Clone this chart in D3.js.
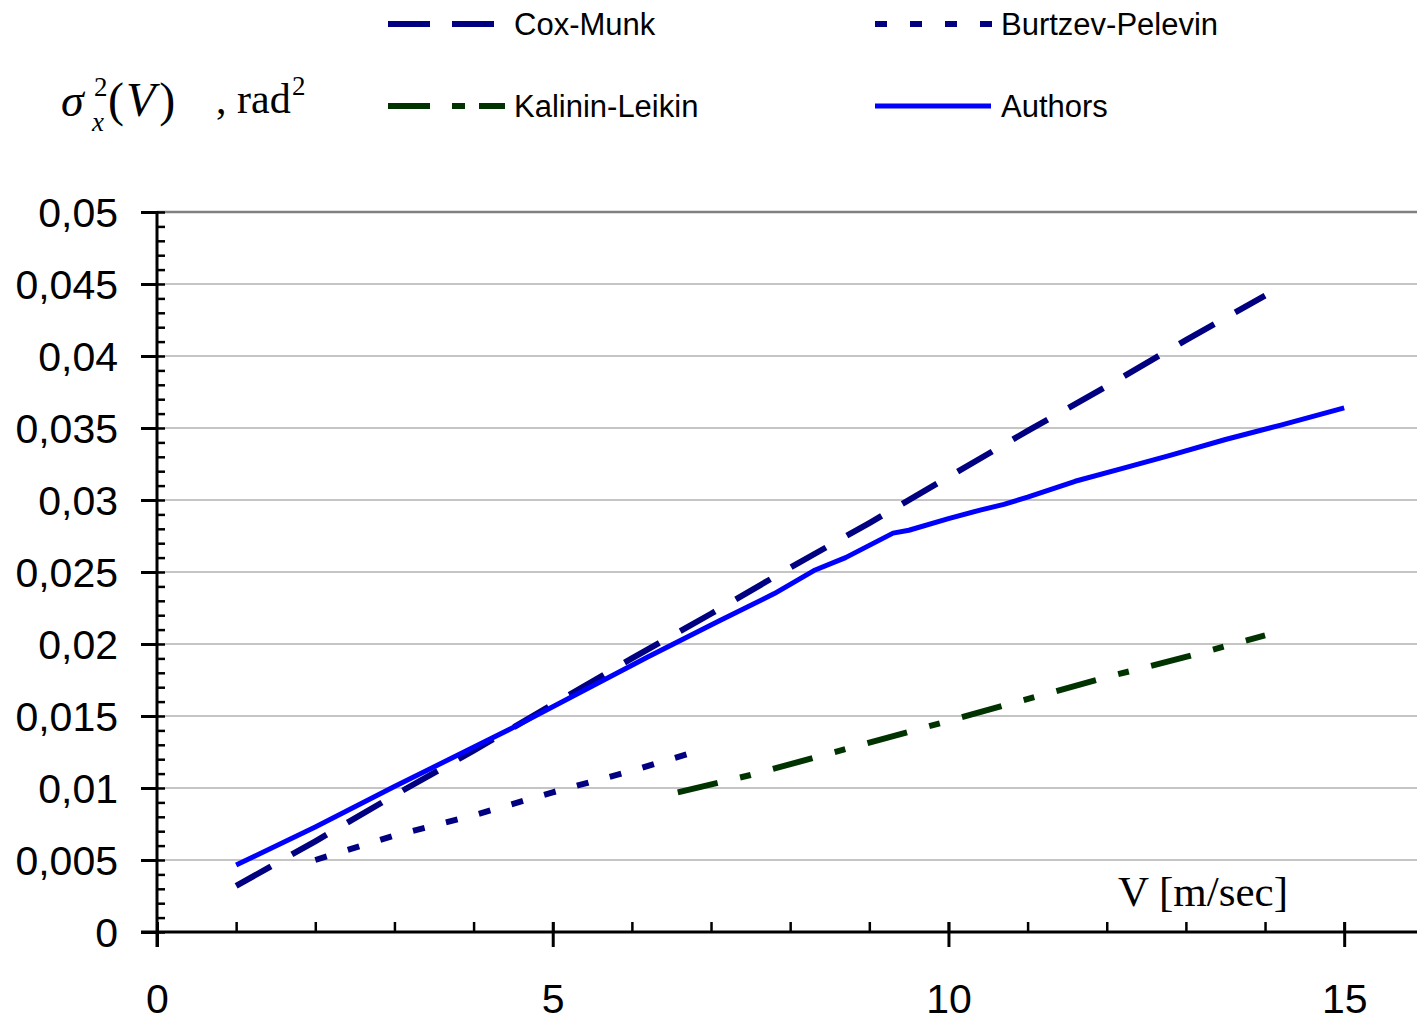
<!DOCTYPE html>
<html><head><meta charset="utf-8">
<script src="https://cdn.jsdelivr.net/npm/d3@7"></script>
<style>
html,body{margin:0;padding:0;background:#fff;}
svg{display:block;}
</style></head>
<body>
<svg id="chart" width="1417" height="1019"></svg>
<script>
// ---- data ----
const xTicks = [0, 5, 10, 15];
const xTickLabels = ["0", "5", "10", "15"];
const yTicks = [0, 0.005, 0.01, 0.015, 0.02, 0.025, 0.03, 0.035, 0.04, 0.045, 0.05];
const yTickLabels = ["0", "0,005", "0,01", "0,015", "0,02", "0,025", "0,03", "0,035", "0,04", "0,045", "0,05"];

const coxV = [1, 2, 3, 4, 5, 6, 7, 8, 9, 10, 11, 12, 13, 14];
const coxS = [0.0032, 0.0063, 0.0095, 0.0126, 0.0158, 0.0190, 0.0221, 0.0253, 0.0284, 0.0316, 0.0348, 0.0379, 0.0411, 0.0442];

const burV = [2, 3, 4, 5, 6, 6.85];
const burS = [0.0050, 0.0067, 0.0081, 0.0097, 0.0112, 0.0126];

const kalV = [6.58, 7.5, 8.3, 9.5, 10.75, 12, 13, 14];
const kalS = [0.0097, 0.0109, 0.0121, 0.0139, 0.0158, 0.0177, 0.0191, 0.0206];

const autV = [1, 2, 3, 4.5, 6.2, 7.1, 7.8, 8.3, 8.7, 9.3, 9.5, 10, 10.4, 10.7, 11, 11.6, 12.2, 12.8, 13.5, 14.2, 15];
const autS = [0.00465, 0.0073, 0.0101, 0.0142, 0.0191, 0.0216, 0.0235, 0.0251, 0.0260, 0.0277, 0.0279, 0.0287, 0.0293, 0.0297, 0.0302, 0.0313, 0.0322, 0.0331, 0.0342, 0.0352, 0.0364];

const seriesNames = ["Cox-Munk", "Burtzev-Pelevin", "Kalinin-Leikin", "Authors"];

// ---- drawing ----
const svg = d3.select("#chart");
const x = d3.scaleLinear().domain([0, 15.92]).range([157, 1417]);
const y = d3.scaleLinear().domain([0, 0.05]).range([932, 212]);
const sans = "'Liberation Sans', Arial, sans-serif";
const serif = "'Liberation Serif', 'Times New Roman', serif";

// grid lines
const grid = svg.append("g");
grid.selectAll("line").data(yTicks.filter(v => v > 0 && v < 0.05)).join("line")
  .attr("x1", x(0)).attr("x2", x(15.92))
  .attr("y1", d => y(d)).attr("y2", d => y(d))
  .attr("stroke", "#8c8c8c").attr("stroke-width", 1.2);
grid.append("line")
  .attr("x1", x(0)).attr("x2", x(15.92))
  .attr("y1", y(0.05)).attr("y2", y(0.05))
  .attr("stroke", "#808080").attr("stroke-width", 2.5);

// y minor ticks (right side of axis)
const yMinor = d3.range(0, 51).map(i => i / 1000);
svg.append("g").attr("transform", `translate(${x(0)},0)`)
  .call(d3.axisRight(y).tickValues(yMinor).tickSize(8).tickFormat(""))
  .call(g => g.select(".domain").remove())
  .call(g => g.selectAll("line").attr("stroke", "#000").attr("stroke-width", 2.5));

// y major axis
svg.append("g").attr("transform", `translate(${x(0)},0)`)
  .call(d3.axisLeft(y).tickValues(yTicks).tickSize(16).tickPadding(23)
    .tickFormat((d, i) => yTickLabels[i]))
  .call(g => g.select(".domain").remove())
  .call(g => g.selectAll("line").attr("stroke", "#000").attr("stroke-width", 3))
  .call(g => g.selectAll("text").attr("font-family", sans).attr("font-size", 41)
    .attr("fill", "#000").attr("dy", "0.36em"));

// y axis line
svg.append("line").attr("x1", x(0)).attr("x2", x(0))
  .attr("y1", y(0.05) - 1).attr("y2", y(0) + 15)
  .attr("stroke", "#000").attr("stroke-width", 3);

// x minor ticks (above axis)
svg.append("g").attr("transform", `translate(0,${y(0)})`)
  .call(d3.axisTop(x).tickValues(d3.range(1, 16)).tickSize(10).tickFormat(""))
  .call(g => g.select(".domain").remove())
  .call(g => g.selectAll("line").attr("stroke", "#000").attr("stroke-width", 2.5));

// x major axis
svg.append("g").attr("transform", `translate(0,${y(0)})`)
  .call(d3.axisBottom(x).tickValues(xTicks).tickSize(15)
    .tickFormat((d, i) => xTickLabels[i]))
  .call(g => g.select(".domain").remove())
  .call(g => g.selectAll("line").attr("y1", -10).attr("stroke", "#000").attr("stroke-width", 3))
  .call(g => g.selectAll("text").attr("font-family", sans).attr("font-size", 41)
    .attr("fill", "#000").attr("y", 81).attr("dy", 0));

// x axis line
svg.append("line").attr("x1", x(0) - 16).attr("x2", x(15.92))
  .attr("y1", y(0)).attr("y2", y(0))
  .attr("stroke", "#000").attr("stroke-width", 3);

// series
const line = d3.line().x(d => x(d[0])).y(d => y(d[1]));
const series = [
  { name: seriesNames[0], V: coxV, S: coxS, color: "#000080", w: 6, dash: "40,24" },
  { name: seriesNames[1], V: burV, S: burS, color: "#000080", w: 6, dash: "12,22" },
  { name: seriesNames[2], V: kalV, S: kalS, color: "#003300", w: 6, dash: "41,23,11,23" },
  { name: seriesNames[3], V: autV, S: autS, color: "#0000ff", w: 5, dash: null }
];
svg.append("g").selectAll("path").data(series).join("path")
  .attr("d", s => line(s.V.map((v, i) => [v, s.S[i]])))
  .attr("fill", "none").attr("stroke", s => s.color).attr("stroke-width", s => s.w)
  .attr("stroke-dasharray", s => s.dash).attr("stroke-linecap", "butt")
  .attr("stroke-linejoin", "round");

// legend
const legendPos = [
  { x1: 388, x2: 494, y: 24, tx: 514 },
  { x1: 875, x2: 993, y: 24, tx: 1001 },
  { x1: 388, x2: 505, y: 106, tx: 514 },
  { x1: 875, x2: 991, y: 106, tx: 1001 }
];
const leg = svg.append("g");
series.forEach((s, i) => {
  const p = legendPos[i];
  leg.append("line").attr("x1", p.x1).attr("x2", p.x2).attr("y1", p.y).attr("y2", p.y)
    .attr("stroke", s.color).attr("stroke-width", s.dash ? 6 : 5)
    .attr("stroke-dasharray", i === 1 ? "12,23" : (i === 2 ? "42,22,13,14" : (i === 0 ? "42,22" : null)));
  leg.append("text").attr("x", p.tx).attr("y", p.y + 11)
    .attr("font-family", sans).attr("font-size", 31).attr("fill", "#000").text(s.name);
});

// y axis title
const yt = svg.append("g").attr("font-family", serif).attr("fill", "#000");
yt.append("text").attr("x", 61).attr("y", 116).attr("font-size", 46).attr("font-style", "italic").text("σ");
yt.append("text").attr("x", 94).attr("y", 96).attr("font-size", 27).text("2");
yt.append("text").attr("x", 92).attr("y", 131).attr("font-size", 27).attr("font-style", "italic").text("x");
const yv = yt.append("text").attr("x", 108).attr("y", 116).attr("font-size", 48);
yv.append("tspan").text("(");
yv.append("tspan").attr("font-style", "italic").attr("dx", 2).text("V");
yv.append("tspan").attr("dx", 4).text(")");
yt.append("text").attr("x", 216).attr("y", 113).attr("font-size", 42).text(", rad");
yt.append("text").attr("x", 292).attr("y", 95).attr("font-size", 27).text("2");

// x axis title
svg.append("text").attr("x", 1118).attr("y", 906).attr("font-family", serif)
  .attr("font-size", 43).attr("fill", "#000").text("V [m/sec]");
</script>
</body></html>
